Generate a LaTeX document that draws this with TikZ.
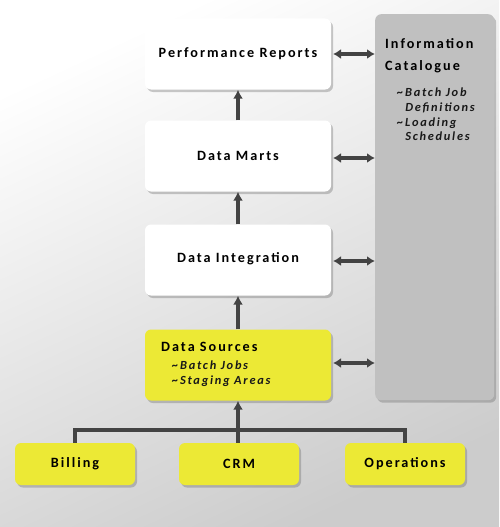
\documentclass[tikz,border=0pt]{standalone}
\usepackage{fontspec}
\setmainfont{Carlito}
\usetikzlibrary{shadows,arrows.meta}
\newfontfamily\lbl[LetterSpace=14]{Carlito}
\definecolor{ylw}{HTML}{ECE935}
\definecolor{cat}{HTML}{C0C0C0}
\definecolor{ln}{HTML}{434343}
\tikzset{
  box/.style={draw=none, rounded corners=6pt, minimum width=186pt, minimum height=71pt, fill=white,
    drop shadow={shadow xshift=2pt, shadow yshift=-2.5pt, opacity=0.35, fill=black!60},
    font=\lbl\bfseries\fontsize{14.2}{16}\selectfont, text=black},
  ybox/.style={box, fill=ylw},
  sbox/.style={ybox, minimum width=120pt, minimum height=42pt},
  con/.style={draw=ln, line width=3.2pt},
  arr/.style={con, -{Latex[length=9pt,width=10pt]}},
  darr/.style={con, {Latex[length=8pt,width=10pt]}-{Latex[length=8pt,width=10pt]}},
  ttl/.style={font=\lbl\bfseries\fontsize{14.2}{16}\selectfont, text=black, anchor=west, inner sep=0pt},
  lst/.style={font=\lbl\bfseries\itshape\fontsize{12.4}{14.6}\selectfont, text=black!90, align=left, inner sep=0pt},
}
\begin{document}
\begin{tikzpicture}[x=1pt,y=-1pt]
\useasboundingbox (0,0) rectangle (499,527);
\shade[shading=axis, top color=white, bottom color=black!20, shading angle=25] (0,0) rectangle (499,527);
% catalogue
\node[box, fill=cat, minimum width=119pt, minimum height=386pt, anchor=north west] (cat) at (375,14) {};
\node[ttl] (ct1) at (385,44) {Information};
\node[ttl] (ct2) at (385,67) {Catalogue};
\node[lst, anchor=north west] (ctl) at (397,88) {\textasciitilde Batch Job\\\hspace{0.65em}Definitions\\\textasciitilde Loading\\\hspace{0.65em}Schedules};
% column
\node[box] (pr) at (238,54) {Performance Reports};
\node[box] (dm) at (238,156) {Data Marts};
\node[box] (di) at (238,260) {\raisebox{4pt}{Data Integration}};
\node[ybox] (ds) at (238,365) {};
\node[ttl] (dst) at (161,347) {Data Sources};
\node[lst, anchor=north west] (dsl) at (172,361) {\textasciitilde Batch Jobs\\\textasciitilde Staging Areas};
% sources
\node[sbox] (bi) at (75,464) {\raisebox{-3pt}{Billing}};
\node[sbox] (crm) at (239,464) {\raisebox{-3pt}{CRM}};
\node[sbox] (op) at (405,464) {\raisebox{-3pt}{Operations}};
% arrows up
\draw[arr] (dm.north) -- (pr.south);
\draw[arr] (di.north) -- (dm.south);
\draw[arr] (ds.north) -- (di.south);
% bus
\coordinate (j) at (238,430);
\draw[con] (bi.north) -- (75,430) -- (405,430) -- (op.north);
\draw[arr] (crm.north -| j) -- (j) -- (ds.south);
% double arrows
\draw[darr] (333,54) coordinate (a1) -- (cat.west |- a1);
\draw[darr] (333,158) coordinate (a2) -- (cat.west |- a2);
\draw[darr] (333,261) coordinate (a3) -- (cat.west |- a3);
\draw[darr] (333,363) coordinate (a4) -- (cat.west |- a4);
\end{tikzpicture}
\end{document}
